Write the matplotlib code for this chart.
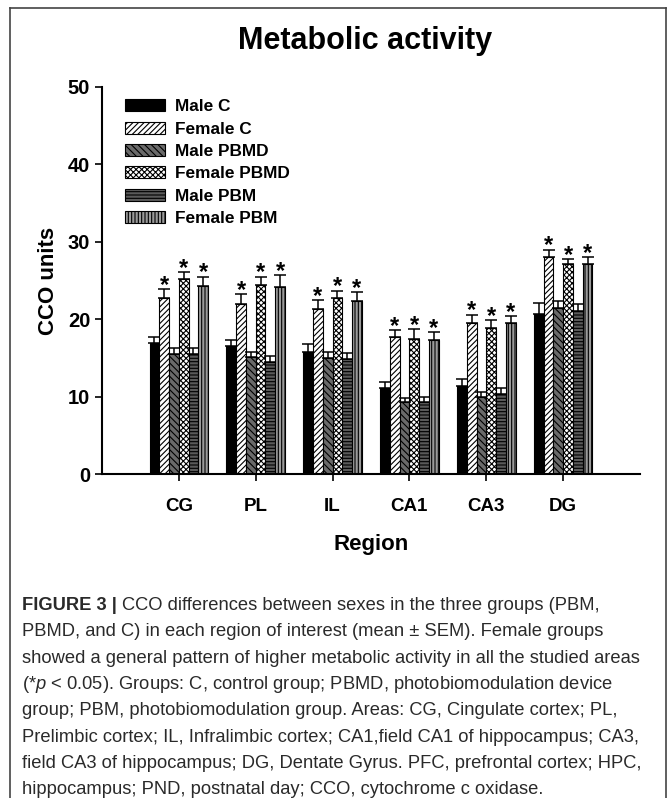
import matplotlib
matplotlib.use("Agg")
import matplotlib.pyplot as plt
import numpy as np
from matplotlib.lines import Line2D

plt.rcParams['font.family'] = ['Liberation Sans', 'DejaVu Sans']
plt.rcParams['mathtext.fontset'] = 'custom'
plt.rcParams['mathtext.it'] = 'Liberation Sans:italic'
plt.rcParams['mathtext.rm'] = 'Liberation Sans'
plt.rcParams['hatch.linewidth'] = 0.8

# data (mean and SEM, CCO units)
regions = ["CG", "PL", "IL", "CA1", "CA3", "DG"]
groups = ["Male C", "Female C", "Male PBMD", "Female PBMD", "Male PBM", "Female PBM"]

male_c = [16.9, 16.5, 15.7, 11.1, 11.4, 20.7]
female_c = [22.8, 22.0, 21.3, 17.7, 19.5, 28.0]
male_pbmd = [15.5, 15.1, 15.0, 9.3, 9.9, 21.5]
female_pbmd = [25.2, 24.4, 22.8, 17.4, 18.8, 27.1]
male_pbm = [15.5, 14.5, 14.9, 9.3, 10.3, 21.1]
female_pbm = [24.3, 24.2, 22.3, 17.3, 19.5, 27.1]

male_c_sem = [0.8, 0.8, 1.1, 0.8, 0.9, 1.4]
female_c_sem = [1.1, 1.2, 1.2, 0.9, 1.1, 1.0]
male_pbmd_sem = [0.8, 0.7, 0.8, 0.5, 0.7, 0.9]
female_pbmd_sem = [0.9, 1.1, 0.9, 1.3, 1.1, 0.7]
male_pbm_sem = [0.8, 0.8, 0.7, 0.7, 0.8, 0.9]
female_pbm_sem = [1.2, 1.5, 1.2, 1.0, 0.9, 0.9]

# female groups significantly higher (*p < 0.05)
significant = [False, True, False, True, False, True]

means = [male_c, female_c, male_pbmd, female_pbmd, male_pbm, female_pbm]
sems = [male_c_sem, female_c_sem, male_pbmd_sem, female_pbmd_sem, male_pbm_sem, female_pbm_sem]

styles = [
    dict(color="black", hatch=None),
    dict(color="white", hatch="//////"),
    dict(color="#6a6a6a", hatch="\\\\\\\\\\"),
    dict(color="white", hatch="xxxxxx"),
    dict(color="#5a5a5a", hatch="-----"),
    dict(color="#9a9a9a", hatch="|||||"),
]

fig = plt.figure(figsize=(6.72, 7.98), dpi=100)
W, H = 672, 798
ax = fig.add_axes([102 / W, 1 - 474 / H, 538 / W, 387 / H])

x = np.arange(len(regions))
bw = 0.127
for i, (m, s, st) in enumerate(zip(means, sems, styles)):
    pos = x + (i - 2.5) * bw
    ax.bar(pos, m, bw, color=st["color"], hatch=st["hatch"], edgecolor="black",
           linewidth=0.8, label=groups[i], zorder=2)
    ax.errorbar(pos, m, yerr=[np.zeros(len(m)), s], fmt="none", ecolor="black",
                elinewidth=1.1, capsize=4.5, capthick=1.1, zorder=3)
    if significant[i]:
        for px, v, e in zip(pos, m, s):
            ax.text(px, v + e - 0.35, "*", ha="center", va="baseline",
                    fontsize=17, fontweight="bold", zorder=4)

ax.set_xlim(-1, 6)
ax.set_ylim(0, 50)
ax.set_yticks([0, 10, 20, 30, 40, 50])
ax.set_xticks(x)
ax.set_xticklabels(regions, fontsize=13.5, fontweight="bold")
ax.tick_params(axis="y", labelsize=14.5, direction="out", length=5, width=1.2)
ax.tick_params(axis="x", direction="out", length=5, width=1.2, pad=12)
for lab in ax.get_yticklabels():
    lab.set_fontweight("bold")
for sp in ["top", "right"]:
    ax.spines[sp].set_visible(False)
for sp in ["left", "bottom"]:
    ax.spines[sp].set_linewidth(1.5)

ax.set_xlabel("Region", fontsize=16, fontweight="bold", labelpad=14)
ax.set_ylabel("CCO units", fontsize=16, fontweight="bold", labelpad=6)

leg = ax.legend(loc="upper left", bbox_to_anchor=(0.043, 0.968), frameon=False,
                prop=dict(size=12.4, weight="bold"), handlelength=2.3,
                handleheight=0.7, handletextpad=0.6, labelspacing=0.42,
                borderpad=0, borderaxespad=0)

fig.text(365 / W, 1 - 49 / H, "Metabolic activity", ha="center", va="baseline",
         fontsize=22, fontweight="bold")

# frame lines of the figure panel
fig.add_artist(Line2D([10 / W, 10 / W], [0, 1 - 8 / H], color="#444444", lw=1.2,
                      transform=fig.transFigure))
fig.add_artist(Line2D([666 / W, 666 / W], [0, 1 - 8 / H], color="#444444", lw=1.2,
                      transform=fig.transFigure))
fig.add_artist(Line2D([10 / W, 666 / W], [1 - 8 / H, 1 - 8 / H], color="#444444", lw=1.2,
                      transform=fig.transFigure))

# caption
cap_size = 13.2
cap_color = "#2a2a2a"
caption = [
    [("FIGURE 3 |", "bold"), ("CCO differences between sexes in the three groups (PBM,", "normal")],
    [("PBMD, and C) in each region of interest (mean \u00b1 SEM). Female groups", "normal")],
    [("showed a general pattern of higher metabolic activity in all the studied areas", "normal")],
    [(r"(*$\it{p}$ < 0.05). Groups: C, control group; PBMD, photobiomodulation device", "normal")],
    [("group; PBM, photobiomodulation group. Areas: CG, Cingulate cortex; PL,", "normal")],
    [("Prelimbic cortex; IL, Infralimbic cortex; CA1,field CA1 of hippocampus; CA3,", "normal")],
    [("field CA3 of hippocampus; DG, Dentate Gyrus. PFC, prefrontal cortex; HPC,", "normal")],
    [("hippocampus; PND, postnatal day; CCO, cytochrome c oxidase.", "normal")],
]
renderer = fig.canvas.get_renderer()
y0 = 610
for k, runs in enumerate(caption):
    xp = 22
    yb = y0 + k * 26.3
    for s, w in runs:
        t = fig.text(xp / W, 1 - yb / H, s, ha="left", va="baseline",
                     fontsize=cap_size, fontweight=w, color=cap_color)
        bb = t.get_window_extent(renderer)
        xp = bb.x1 + 5

fig.savefig("out.png", dpi=100)
